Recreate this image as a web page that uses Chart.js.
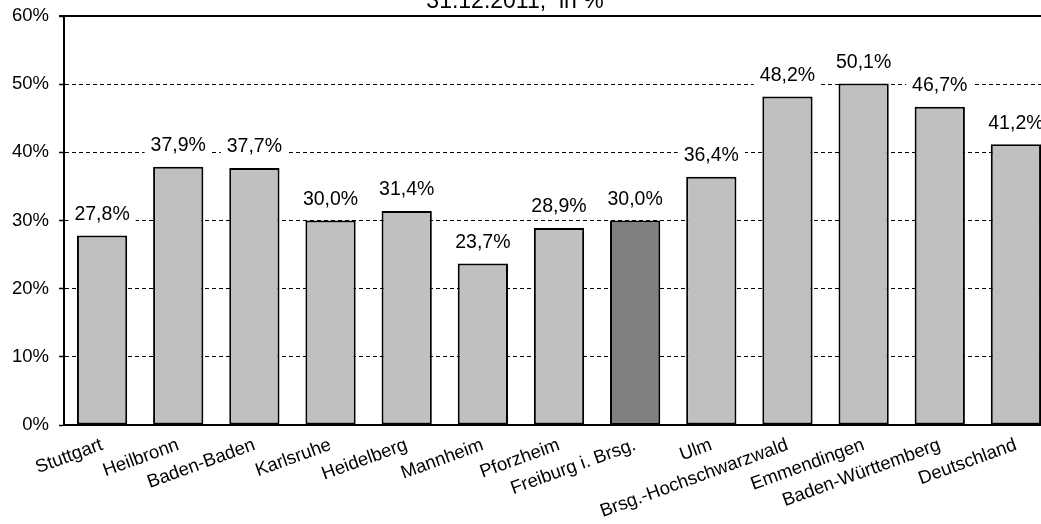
<!DOCTYPE html>
<html>
<head>
<meta charset="utf-8">
<script src="https://cdn.jsdelivr.net/npm/chart.js@4/dist/chart.umd.min.js"></script>
<style>
    html, body { margin: 0; padding: 0; background: #fff; overflow: hidden; }
    #wrap { position: relative; width: 1054px; height: 524px; }
</style>
</head>
<body>
<div id="wrap"><canvas id="chart"></canvas></div>
<script>
// Daten
const regions = ['Stuttgart', 'Heilbronn', 'Baden-Baden', 'Karlsruhe', 'Heidelberg', 'Mannheim',
    'Pforzheim', 'Freiburg i. Brsg.', 'Ulm', 'Brsg.-Hochschwarzwald', 'Emmendingen',
    'Baden-Württemberg', 'Deutschland'];
const shares = [27.8, 37.9, 37.7, 30.0, 31.4, 23.7, 28.9, 30.0, 36.4, 48.2, 50.1, 46.7, 41.2];
const highlight = 'Freiburg i. Brsg.';
const titleText = '31.12.2011,  in %';

const FONT = '"Liberation Sans", Arial, sans-serif';

// Titel (oben abgeschnitten wie im Original)
const titlePlugin = {
    id: 'cutTitle',
    afterDraw(chart) {
        const ctx = chart.ctx;
        ctx.save();
        ctx.font = `23px ${FONT}`;
        ctx.fillStyle = '#000';
        ctx.textAlign = 'center';
        ctx.textBaseline = 'alphabetic';
        ctx.fillText(titleText, 515, 8);
        ctx.restore();
    }
};

// Durchgezogene Linie bei 60%
const topLine = {
    id: 'topLine',
    beforeDatasetsDraw(chart) {
        const { ctx, chartArea } = chart;
        ctx.save();
        ctx.strokeStyle = '#000';
        ctx.lineWidth = 2;
        ctx.beginPath();
        ctx.moveTo(chartArea.left - 5, chartArea.top);
        ctx.lineTo(chartArea.right, chartArea.top);
        ctx.stroke();
        ctx.restore();
    }
};

// Wertebeschriftung mit weissem Hintergrund
const valueLabels = {
    id: 'valueLabels',
    afterDatasetsDraw(chart) {
        const ctx = chart.ctx;
        const meta = chart.getDatasetMeta(0);
        ctx.save();
        ctx.font = `19.5px ${FONT}`;
        ctx.textAlign = 'center';
        ctx.textBaseline = 'middle';
        meta.data.forEach((bar, i) => {
            const txt = shares[i].toFixed(1).replace('.', ',') + '%';
            const w = ctx.measureText(txt).width;
            const y = bar.y - 21;
            ctx.fillStyle = '#fff';
            ctx.fillRect(bar.x - w / 2 - 6, y - 11, w + 12, 22);
            ctx.fillStyle = '#000';
            ctx.fillText(txt, bar.x, y);
        });
        ctx.restore();
    }
};

Chart.defaults.font.family = FONT;
Chart.defaults.color = '#000';

new Chart(document.getElementById('chart'), {
    type: 'bar',
    data: {
        labels: regions,
        datasets: [{
            data: shares,
            backgroundColor: regions.map(r => r === highlight ? '#808080' : '#c0c0c0'),
            borderColor: '#000',
            borderWidth: 2,
            borderSkipped: false,
            barPercentage: 0.66,
            categoryPercentage: 1
        }]
    },
    options: {
        responsive: true,
        maintainAspectRatio: false,
        animation: false,
        layout: { padding: { top: 16, right: 0, bottom: 0, left: 0 } },
        scales: {
            x: {
                afterFit: (scale) => { scale.height = 99; },
                grid: { display: false, drawTicks: false },
                border: { display: true, color: '#000', width: 2 },
                ticks: {
                    font: { size: 18.5 },
                    minRotation: 20,
                    maxRotation: 20,
                    autoSkip: false,
                    padding: 9
                }
            },
            y: {
                min: 0,
                max: 60,
                afterFit: (scale) => {
                    scale.width = 64;
                    scale.paddingTop = 0;
                    scale.paddingBottom = 0;
                },
                grid: {
                    color: '#000',
                    lineWidth: 1,
                    tickBorderDash: [],
                    tickLength: 5,
                    tickWidth: 1.5
                },
                border: { display: true, color: '#000', width: 2, dash: [4, 3] },
                ticks: {
                    stepSize: 10,
                    font: { size: 18.5 },
                    padding: 10,
                    callback: (v) => v + '%'
                }
            }
        },
        plugins: {
            legend: { display: false },
            tooltip: { enabled: false }
        }
    },
    plugins: [topLine, valueLabels, titlePlugin]
});
</script>
</body>
</html>
